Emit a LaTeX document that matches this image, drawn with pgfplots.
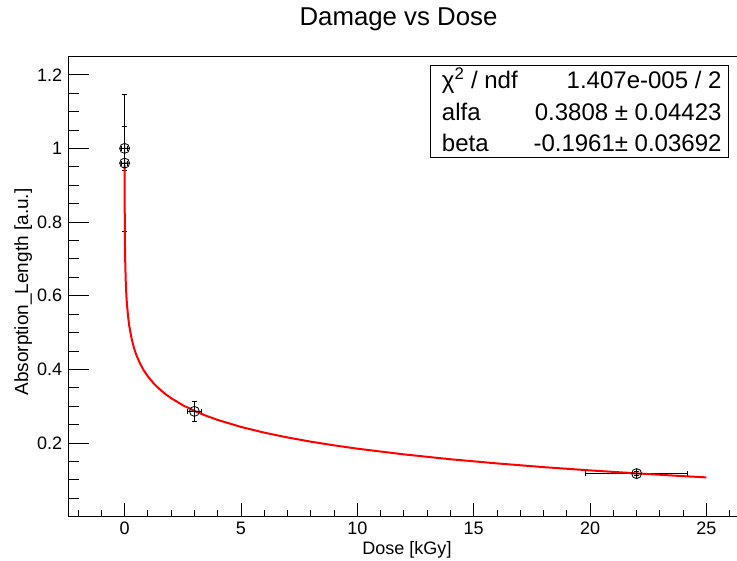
\documentclass[border=0pt]{standalone}
\usepackage{fontspec}
\setmainfont{Liberation Sans}
\usepackage{pgfplots}
\pgfplotsset{compat=1.18}

\pgfplotstableread{
x y ex ey
0 1.000 0.12 0.060
0 0.960 0.12 0.186
3 0.286 0.30 0.026
22 0.117 2.20 0.005
}\pointdata

\pgfplotstableread{
x y
0.0012 0.9536
0.002 0.9101
0.003 0.8755
0.005 0.8320
0.0075 0.7975
0.01 0.7730
0.015 0.7385
0.02 0.7140
0.03 0.6794
0.05 0.6359
0.075 0.6014
0.1 0.5769
0.15 0.5424
0.2 0.5179
0.3 0.4833
0.4 0.4588
0.5 0.4398
0.65 0.4175
0.8 0.3998
1 0.3808
1.25 0.3618
1.5 0.3463
1.75 0.3331
2 0.3218
2.5 0.3028
3 0.2872
3.5 0.2741
4 0.2627
5 0.2437
6 0.2282
7 0.2151
8 0.2037
9 0.1937
10 0.1847
12 0.1692
14 0.1560
16 0.1447
18 0.1346
20 0.1257
22 0.1176
24 0.1101
25 0.1067
}\fitdata

\begin{document}
\begin{tikzpicture}[x=1bp,y=1bp]
\useasboundingbox (0,0) rectangle (737,561);
\clip (0,0) rectangle (737,561);

% x ticks axis
\begin{axis}[
  at={(68.3bp,44.3bp)}, anchor=south west,
  scale only axis, width=675.8bp, height=460bp,
  xmin=-2.42, xmax=26.62, ymin=0, ymax=1.249,
  axis line style={draw=none},
  tick align=inside, tick pos=left,
  ytick=\empty,
  xtick={0,5,10,15,20,25},
  xticklabels={0,5,10,15,20,25},
  minor xtick={-2,-1,1,2,3,4,6,7,8,9,11,12,13,14,16,17,18,19,21,22,23,24,26},
  major tick length=14bp, minor tick length=7bp,
  tick style={black, line width=0.8bp},
  /pgf/number format/assume math mode=true,
  xticklabel style={font=\fontsize{18bp}{20bp}\selectfont, inner sep=0pt, anchor=north, yshift=-5bp},
]
\end{axis}

% main axis: frame, y ticks, data
\begin{axis}[
  at={(68.3bp,44.3bp)}, anchor=south west,
  scale only axis, width=675.8bp, height=460bp,
  xmin=-2.42, xmax=26.62, ymin=0, ymax=1.249,
  axis line style={black, line width=0.8bp},
  tick align=inside, tick pos=left,
  xtick=\empty,
  ytick={0.2,0.4,0.6,0.8,1,1.2},
  yticklabels={0.2,0.4,0.6,0.8,1,1.2},
  minor ytick={0.05,0.1,0.15,0.25,0.3,0.35,0.45,0.5,0.55,0.65,0.7,0.75,0.85,0.9,0.95,1.05,1.1,1.15},
  major tick length=21bp, minor tick length=10.5bp,
  tick style={black, line width=0.8bp},
  /pgf/number format/assume math mode=true,
  yticklabel style={font=\fontsize{18bp}{20bp}\selectfont, inner sep=0pt, anchor=east, xshift=-6bp},
  clip=false,
]
\addplot[only marks, mark=oplus, mark size=5bp, black,
  mark options={black, line width=0.8bp},
  error bars/.cd, y dir=both, y explicit, x dir=both, x explicit,
  error bar style={black, line width=0.8bp},
  error mark=-,
  error mark options={rotate=90, black, mark size=2.5bp, line width=0.8bp}]
  table[x=x, y=y, x error=ex, y error=ey] {\pointdata};
\addplot[red, line width=2bp] table[x=x, y=y] {\fitdata};
\end{axis}

% stats box
\draw[black, line width=0.8bp, fill=white] (430,496) rectangle (728,404);
\begin{scope}[every node/.style={font=\fontsize{24bp}{28bp}\selectfont, inner sep=0pt}]
\node[anchor=base west] at (441.7,472) {χ\textsuperscript{2} / ndf};
\node[anchor=base east] at (721.7,472) {1.407e-005 / 2};
\node[anchor=base west] at (441.7,440) {alfa};
\node[anchor=base east] at (721.7,440) {0.3808 ± 0.04423};
\node[anchor=base west] at (441.7,409) {beta};
\node[anchor=base east] at (721.7,409) {-0.1961± 0.03692};
\end{scope}

% title and axis titles
\node[anchor=base, inner sep=0pt, font=\fontsize{25.8bp}{30bp}\selectfont] at (398.5,535) {Damage vs Dose};
\node[anchor=base, inner sep=0pt, font=\fontsize{18bp}{21bp}\selectfont] at (407,6) {Dose [kGy]};
\node[anchor=base, inner sep=0pt, rotate=90, font=\fontsize{19bp}{22bp}\selectfont] at (28,269) {Absorption\_Length [a.u.]};
\end{tikzpicture}
\end{document}
